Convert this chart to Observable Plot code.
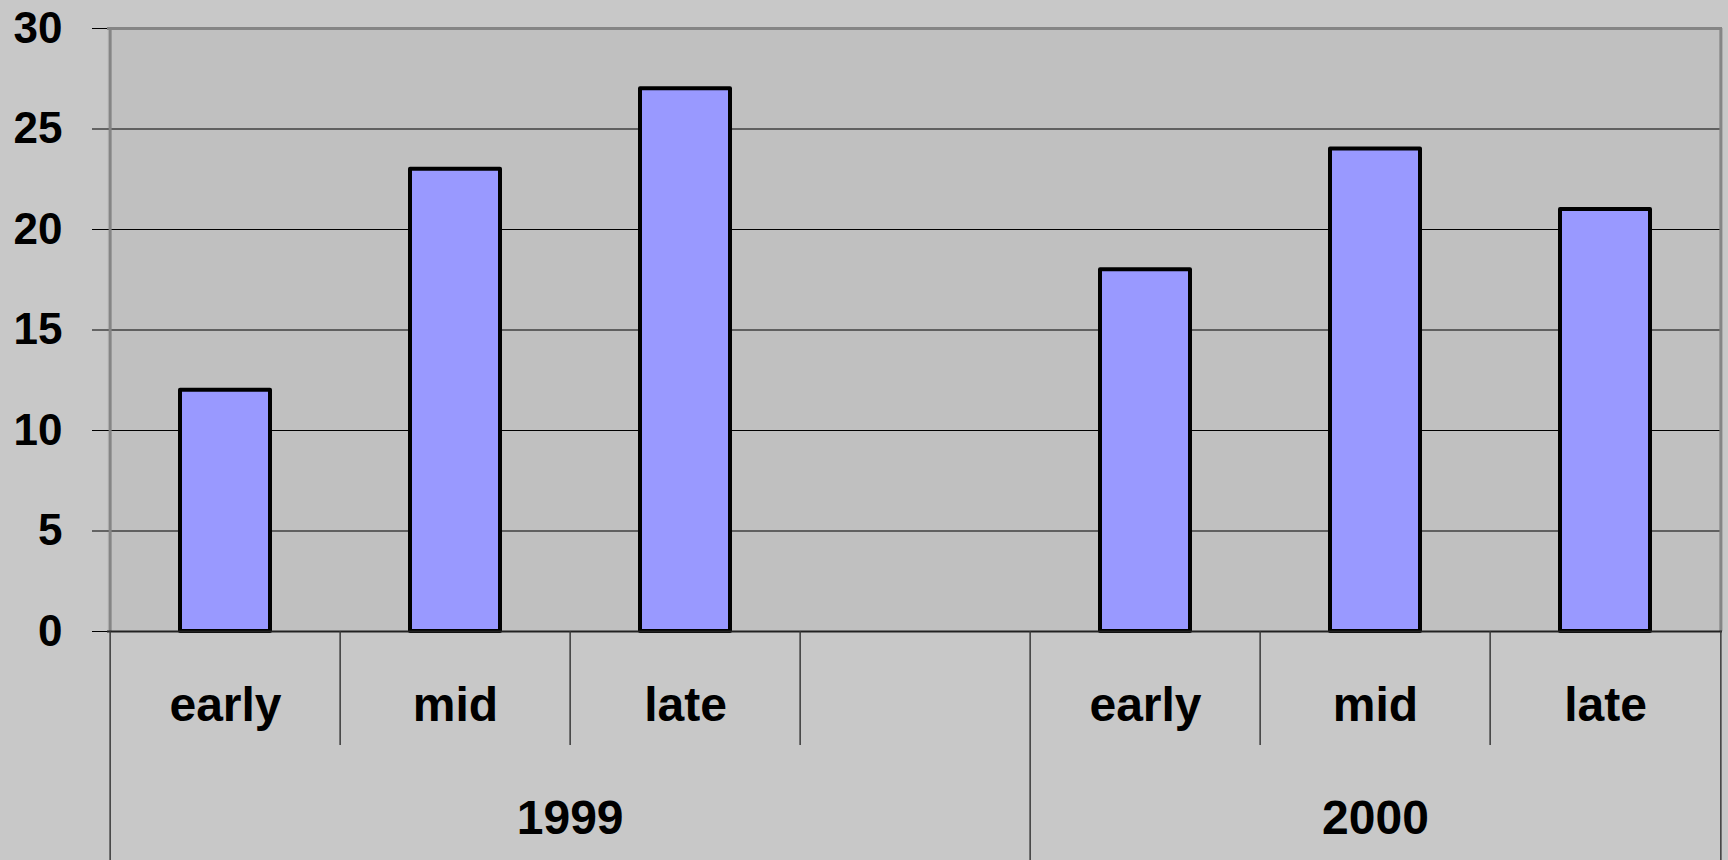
<!DOCTYPE html>
<html>
<head>
<meta charset="utf-8">
<script src="https://cdn.jsdelivr.net/npm/d3@7"></script>
<script src="https://cdn.jsdelivr.net/npm/@observablehq/plot@0.6"></script>
<style>
  html, body { margin: 0; padding: 0; background: #c8c8c8; }
  #chart svg { display: block; }
</style>
</head>
<body>
<div id="chart"></div>
<script>
// Counts per period, grouped by year (the empty slot separates the two years)
const years   = ["1999", "1999", "1999", "1999", "2000", "2000", "2000"];
const periods = ["early", "mid", "late", "", "early", "mid", "late"];
const counts  = [12, 23, 27, null, 18, 24, 21];
const yTicks  = [0, 5, 10, 15, 20, 25, 30];

const rows = periods.map((p, i) => ({key: `${years[i]}-${i}`, year: years[i], period: p, value: counts[i], i}));
const keys = rows.map(d => d.key);

// Layout
const W = 1728, H = 860;
const M = {top: 28, right: 6, bottom: 229, left: 107};
const step = (W - M.left - M.right) / keys.length;
const pxPerUnit = (H - M.top - M.bottom) / yTicks[yTicks.length - 1];
const below = px => -px / pxPerUnit;           // depth under the zero line, in data units
const font = "'Liberation Sans', Arial, Helvetica, sans-serif";

// Category separators: long ones where a year starts, short ones inside a year
const edges = rows.map(d => ({key: d.key, long: d.i === 0 || years[d.i] !== years[d.i - 1]}));
const lastKey = keys[keys.length - 1];

// One label per year, centred on the span of its categories
const groups = d3.groups(rows, d => d.year).map(([year, items]) => {
  const first = items[0].i, last = items[items.length - 1].i;
  const mid = (first + last + 1) / 2;           // in band units
  const whole = Number.isInteger(mid);
  return {year, key: keys[whole ? mid : Math.floor(mid)], dx: whole ? -step / 2 : 0};
});

const textStyle = {fontSize: 48, fontWeight: "bold", fill: "black", fontFamily: font};

const chart = Plot.plot({
  width: W,
  height: H,
  marginTop: M.top,
  marginRight: M.right,
  marginBottom: M.bottom,
  marginLeft: M.left,
  style: {background: "#c8c8c8", color: "black", fontFamily: font, fontSize: "44px", fontWeight: "bold"},
  x: {domain: keys, paddingInner: 0.61, paddingOuter: 0.305, axis: null},
  y: {domain: [0, 30], ticks: yTicks, tickSize: 15, tickPadding: 30, label: null, tickFormat: d => String(d)},
  marks: [
    Plot.frame({fill: "#c0c0c0", stroke: null}),
    Plot.ruleY(yTicks.filter(t => t > 0 && t < 30), {stroke: "black", strokeWidth: 1.2}),
    // plot-area border (top, left, right)
    Plot.ruleY([30], {stroke: "#858585", strokeWidth: 3}),
    Plot.ruleX([keys[0]], {y1: 0, y2: 30, dx: -step / 2, stroke: "#858585", strokeWidth: 3}),
    Plot.ruleX([lastKey], {y1: 0, y2: 30, dx: step / 2, stroke: "#858585", strokeWidth: 3}),
    Plot.barY(rows.filter(d => d.value != null), {
      x: "key", y: "value", fill: "#9999ff", stroke: "black", strokeWidth: 4, strokeLinejoin: "round"
    }),
    Plot.ruleY([0], {stroke: "#222", strokeWidth: 2}),
    // category separators under the axis
    Plot.ruleX(edges, {x: "key", y1: 0, y2: d => below(d.long ? H - M.bottom : 114), dx: -step / 2, stroke: "#3a3a3a", strokeWidth: 1.5}),
    Plot.ruleX([lastKey], {y1: 0, y2: below(M.bottom), dx: step / 2, stroke: "#3a3a3a", strokeWidth: 1.5}),
    // category and year labels
    Plot.text(rows, {x: "key", y: () => 0, dy: 74, text: "period", ...textStyle}),
    ...groups.map(g => Plot.text([g], {x: "key", y: () => 0, dy: 187, dx: g.dx, text: "year", ...textStyle}))
  ]
});

document.getElementById("chart").append(chart);
</script>
</body>
</html>
